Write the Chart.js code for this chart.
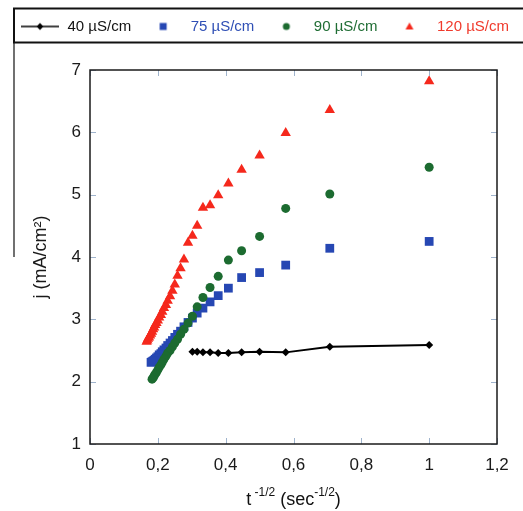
<!DOCTYPE html>
<html>
<head>
<meta charset="utf-8">
<script src="https://cdn.jsdelivr.net/npm/chart.js@4/dist/chart.umd.min.js"></script>
<style>
  html, body { margin: 0; padding: 0; background: #fff; }
  #wrap { width: 523px; height: 511px; }
</style>
</head>
<body>
<div id="wrap"><canvas id="c" width="523" height="511"></canvas></div>
<script>
// ---- Data ----
const seriesNames = ['40 µS/cm', '75 µS/cm', '90 µS/cm', '120 µS/cm'];
const xValues = [1, 0.707, 0.577, 0.5, 0.447, 0.408, 0.378, 0.354, 0.333, 0.316, 0.302, 0.289,
  0.277, 0.267, 0.258, 0.25, 0.243, 0.236, 0.229, 0.224, 0.218, 0.213, 0.209, 0.204, 0.2,
  0.196, 0.192, 0.189, 0.186, 0.183, 0.18, 0.177, 0.174, 0.171, 0.169, 0.167];
const j40 = [2.59, 2.56, 2.47, 2.48, 2.47, 2.46, 2.46, 2.47, 2.47, 2.48, 2.48];
const j75 = [4.25, 4.14, 3.87, 3.75, 3.67, 3.50, 3.38, 3.28, 3.18, 3.10, 3.02, 2.95, 2.88, 2.81,
  2.76, 2.71, 2.66, 2.62, 2.58, 2.54, 2.51, 2.48, 2.45, 2.43, 2.40, 2.38, 2.36, 2.34, 2.33, 2.32, 2.31];
const j90 = [5.44, 5.01, 4.78, 4.33, 4.10, 3.95, 3.69, 3.51, 3.35, 3.20, 3.05, 2.94, 2.84, 2.76,
  2.68, 2.62, 2.56, 2.50, 2.46, 2.41, 2.36, 2.31, 2.27, 2.23, 2.19, 2.15, 2.12, 2.09, 2.06, 2.04];
const j120 = [6.82, 6.36, 5.99, 5.63, 5.40, 5.18, 4.99, 4.83, 4.79, 4.50, 4.34, 4.23, 3.96, 3.82,
  3.70, 3.56, 3.46, 3.37, 3.30, 3.23, 3.18, 3.12, 3.07, 3.03, 2.98, 2.94, 2.91, 2.87, 2.84, 2.80,
  2.77, 2.74, 2.71, 2.69, 2.66, 2.64];
const xTicks = [0, 0.2, 0.4, 0.6, 0.8, 1, 1.2];
const yTicks = [1, 2, 3, 4, 5, 6, 7];
const yTitle = 'j (mA/cm²)';
const xTitleParts = [['t', false], [' -1/2', true], [' (sec', false], ['-1/2', true], [')', false]];

// ---- Styles ----
const colors = ['#000000', '#2647b3', '#1c6b30', '#f5281c'];
const textColors = ['#111111', '#2f4fb5', '#1f6d34', '#f03a2c'];
const styles = ['rectRot', 'rect', 'circle', 'triangle'];
const radii = [4, 6.2, 4.5, 6];
const FONT = "'Liberation Sans', Arial, sans-serif";

const toPts = (ys) => ys.map((y, i) => ({ x: xValues[i], y }));
const allY = [j40, j75, j90, j120];

const datasets = allY.map((ys, k) => ({
  label: seriesNames[k],
  data: toPts(ys),
  showLine: k === 0,
  borderColor: colors[k],
  backgroundColor: colors[k],
  borderWidth: k === 0 ? 2 : 0,
  pointStyle: styles[k],
  pointRadius: radii[k],
  pointHoverRadius: radii[k],
  pointBackgroundColor: colors[k],
  pointBorderColor: colors[k],
  pointBorderWidth: 0,
  order: 4 - k
}));

function legendMarker(k) {
  const cv = document.createElement('canvas');
  cv.width = 40; cv.height = 14;
  const c = cv.getContext('2d');
  c.fillStyle = colors[k]; c.strokeStyle = colors[k];
  const cx = 20, cy = 7;
  if (k === 0) {
    c.lineWidth = 1.6;
    c.beginPath(); c.moveTo(1, cy); c.lineTo(39, cy); c.stroke();
    c.beginPath(); c.moveTo(cx - 3.5, cy); c.lineTo(cx, cy - 3.5); c.lineTo(cx + 3.5, cy); c.lineTo(cx, cy + 3.5); c.closePath(); c.fill();
  } else if (k === 1) {
    c.fillRect(cx - 3.5, cy - 3.5, 7, 7);
  } else if (k === 2) {
    c.beginPath(); c.arc(cx, cy, 3.5, 0, Math.PI * 2); c.fill();
  } else {
    c.beginPath(); c.moveTo(cx, cy - 4); c.lineTo(cx + 4, cy + 3); c.lineTo(cx - 4, cy + 3); c.closePath(); c.fill();
  }
  return cv;
}
const markers = [0, 1, 2, 3].map(legendMarker);

const LEG_PAD = 12;
const frame = {
  id: 'frame',
  beforeInit(chart) {
    const lg = chart.legend;
    if (lg) {
      const fit = lg.fit;
      lg.fit = function () {
        this.maxWidth = 2000;
        fit.call(this);
        this.height += 26;
      };
    }
  },
  beforeDraw(chart) {
    // let the single legend row run past the right edge like the reference
    if (chart.legend) chart.legend.right = chart.width + 400;
  },
  afterDraw(chart) {
    const ctx = chart.ctx;
    const a = chart.chartArea;
    const xs = chart.scales.x, ys = chart.scales.y;
    ctx.save();
    // inner tick marks
    ctx.strokeStyle = '#9fb3cc';
    ctx.lineWidth = 1;
    xTicks.forEach(v => {
      const px = Math.round(xs.getPixelForValue(v)) + 0.5;
      ctx.beginPath(); ctx.moveTo(px, a.bottom); ctx.lineTo(px, a.bottom - 6);
      ctx.moveTo(px, a.top); ctx.lineTo(px, a.top + 6); ctx.stroke();
    });
    yTicks.forEach(v => {
      const py = Math.round(ys.getPixelForValue(v)) + 0.5;
      ctx.beginPath(); ctx.moveTo(a.left, py); ctx.lineTo(a.left + 6, py);
      ctx.moveTo(a.right, py); ctx.lineTo(a.right - 6, py); ctx.stroke();
    });
    // plot frame
    ctx.strokeStyle = '#1a1a1a';
    ctx.lineWidth = 1.5;
    ctx.strokeRect(a.left, a.top, a.right - a.left, a.bottom - a.top);
    // legend box
    const lg = chart.legend;
    const cy = lg.top + LEG_PAD + 7.5;
    const bx = lg.left + 6;
    ctx.lineWidth = 2;
    ctx.strokeStyle = '#111';
    ctx.strokeRect(bx, cy - 18, chart.width + 10, 34);
    ctx.beginPath();
    ctx.lineWidth = 1.2;
    ctx.moveTo(bx, cy + 16); ctx.lineTo(bx, (a.top + a.bottom) / 2); ctx.stroke();
    // x axis title with superscripts
    const big = '18px ' + FONT, small = '12px ' + FONT;
    let total = 0;
    xTitleParts.forEach(([t, sup]) => { ctx.font = sup ? small : big; total += ctx.measureText(t).width; });
    let x = (a.left + a.right) / 2 - total / 2;
    const base = chart.height - 6;
    ctx.fillStyle = '#111';
    ctx.textBaseline = 'alphabetic';
    ctx.textAlign = 'left';
    xTitleParts.forEach(([t, sup]) => {
      ctx.font = sup ? small : big;
      ctx.fillText(t, x, sup ? base - 9 : base);
      x += ctx.measureText(t).width;
    });
    ctx.restore();
  }
};

new Chart(document.getElementById('c'), {
  type: 'scatter',
  data: { datasets },
  options: {
    responsive: false,
    animation: false,
    layout: { padding: { top: 7, left: 8, right: 26, bottom: 0 } },
    plugins: {
      tooltip: { enabled: false },
      legend: {
        position: 'top',
        align: 'start',
        labels: {
          font: { family: FONT, size: 15 },
          padding: LEG_PAD,
          usePointStyle: true,
          pointStyleWidth: 40,
          generateLabels: (chart) => chart.data.datasets.map((d, k) => ({
            text: d.label,
            fontColor: textColors[k],
            fillStyle: colors[k],
            strokeStyle: colors[k],
            lineWidth: 0,
            pointStyle: markers[k],
            hidden: false,
            datasetIndex: k
          }))
        }
      }
    },
    scales: {
      x: {
        type: 'linear',
        min: 0, max: 1.2,
        afterFit: (s) => { s.height = 67; },
        afterBuildTicks: (s) => { s.ticks = xTicks.map(v => ({ value: v })); },
        grid: { display: false, drawTicks: false },
        border: { display: false },
        ticks: {
          padding: 11,
          color: '#1a1a1a',
          font: { family: FONT, size: 17 },
          callback: (v) => String(Math.round(v * 10) / 10).replace('.', ',')
        }
      },
      y: {
        type: 'linear',
        min: 1, max: 7,
        afterFit: (s) => { s.width = 82; },
        afterBuildTicks: (s) => { s.ticks = yTicks.map(v => ({ value: v })); },
        grid: { display: false, drawTicks: false },
        border: { display: false },
        ticks: {
          padding: 9,
          color: '#1a1a1a',
          font: { family: FONT, size: 17 }
        },
        title: {
          display: true,
          text: yTitle,
          color: '#1a1a1a',
          font: { family: FONT, size: 18 },
          padding: { top: 22, bottom: 0 }
        }
      }
    }
  },
  plugins: [frame]
});
</script>
</body>
</html>
